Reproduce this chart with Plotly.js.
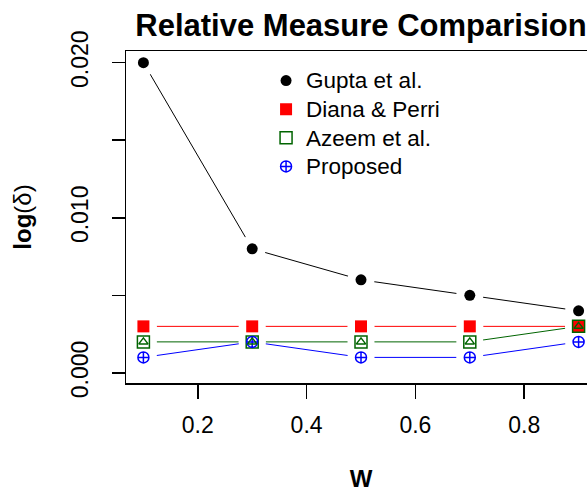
<!DOCTYPE html>
<html>
<head>
<meta charset="utf-8">
<script src="https://cdn.plot.ly/plotly-3.0.1.min.js"></script>
<style>
html,body{margin:0;padding:0;overflow:hidden;background:#fff;}
#chart{width:597px;height:492px;}
</style>
</head>
<body>
<div id="chart"></div>
<script>
var wValues = [0.1, 0.3, 0.5, 0.7, 0.9];
var gupta = [0.020, 0.008, 0.006, 0.005, 0.004];
var diana = [0.003, 0.003, 0.003, 0.003, 0.003];
var azeem = [0.002, 0.002, 0.002, 0.002, 0.003];
var proposed = [0.001, 0.002, 0.001, 0.001, 0.002];
var seriesNames = ['Gupta et al.', 'Diana & Perri', 'Azeem et al.', 'Proposed'];
var seriesColors = ['#000000', '#FF0000', '#006400', '#0000FF'];
var seriesSymbols = ['circle', 'square', 'square-open', 'circle-cross-open'];
var seriesSizes = [11, 12, 12, 11];
var xTickVals = [0.2, 0.4, 0.6, 0.8];
var xTickText = ['0.2', '0.4', '0.6', '0.8'];
var yTickVals = [0.000, 0.005, 0.010, 0.015, 0.020];
var yTickText = ['0.000', '', '0.010', '', '0.020'];

var seriesData = [gupta, diana, azeem, proposed];
var traces = [];
// connecting lines
seriesData.forEach(function(ys, i){
  traces.push({x: wValues, y: ys, mode: 'lines', line: {color: seriesColors[i], width: 1}, showlegend: false, hoverinfo: 'skip'});
});
// white halos giving the type="b" gaps
seriesData.forEach(function(ys, i){
  traces.push({x: wValues, y: ys, mode: 'markers', marker: {color: '#ffffff', size: 27, symbol: 'circle'}, showlegend: false, hoverinfo: 'skip'});
});
// point markers
seriesData.forEach(function(ys, i){
  var mk = {color: seriesColors[i], size: seriesSizes[i], symbol: seriesSymbols[i]};
  if (seriesSymbols[i].indexOf('open') >= 0) mk.line = {color: seriesColors[i], width: 1.5};
  traces.push({x: wValues, y: ys, mode: 'markers', name: '<span style="font-size:22.5px">' + seriesNames[i] + '</span>', marker: mk});
});
// inner triangle of the Azeem symbol
traces.push({x: wValues, y: azeem, mode: 'markers', showlegend: false, hoverinfo: 'skip',
  marker: {color: seriesColors[2], size: 8, symbol: 'triangle-up-open', line: {color: seriesColors[2], width: 1.5}}});

var fontFam = 'Liberation Sans, Arial, sans-serif';
var layout = {
  width: 597, height: 492,
  margin: {l: 126, r: 1, t: 51, b: 109},
  paper_bgcolor: '#ffffff', plot_bgcolor: '#ffffff',
  font: {family: fontFam, size: 22, color: '#000000'},
  title: {text: '<b>Relative Measure Comparision</b>', font: {family: fontFam, size: 31, color: '#000'},
          x: 0.5, xref: 'paper', xanchor: 'center', y: 0.948, yref: 'container', yanchor: 'middle'},
  xaxis: {range: [0.068, 0.932], tickvals: xTickVals, ticktext: xTickText, ticks: 'outside', ticklen: 14, tickwidth: 1.5,
          tickcolor: '#000', showline: true, linecolor: '#000', linewidth: 1.5, mirror: true, showgrid: false, zeroline: false,
          ticklabelstandoff: 7, tickfont: {size: 23},
          title: {text: '<b>W</b>', font: {size: 24}, standoff: 50}},
  yaxis: {range: [-0.00065, 0.02075], tickvals: yTickVals, ticktext: yTickText, ticks: 'outside', ticklen: 13, tickwidth: 1.5,
          tickcolor: '#000', showline: true, linecolor: '#000', linewidth: 1.5, mirror: true, showgrid: false, zeroline: false,
          tickangle: -90, ticklabelstandoff: 14, tickfont: {size: 23},
          title: {text: '<b>log</b>(δ)', font: {size: 24}, standoff: 29}},
  legend: {x: 0.298, xanchor: 'left', y: 0.969, yanchor: 'top', bgcolor: 'rgba(0,0,0,0)', font: {size: 19.7}, itemclick: false},
  showlegend: true
};
Plotly.newPlot('chart', traces, layout, {displayModeBar: false, staticPlot: true});
</script>
</body>
</html>
